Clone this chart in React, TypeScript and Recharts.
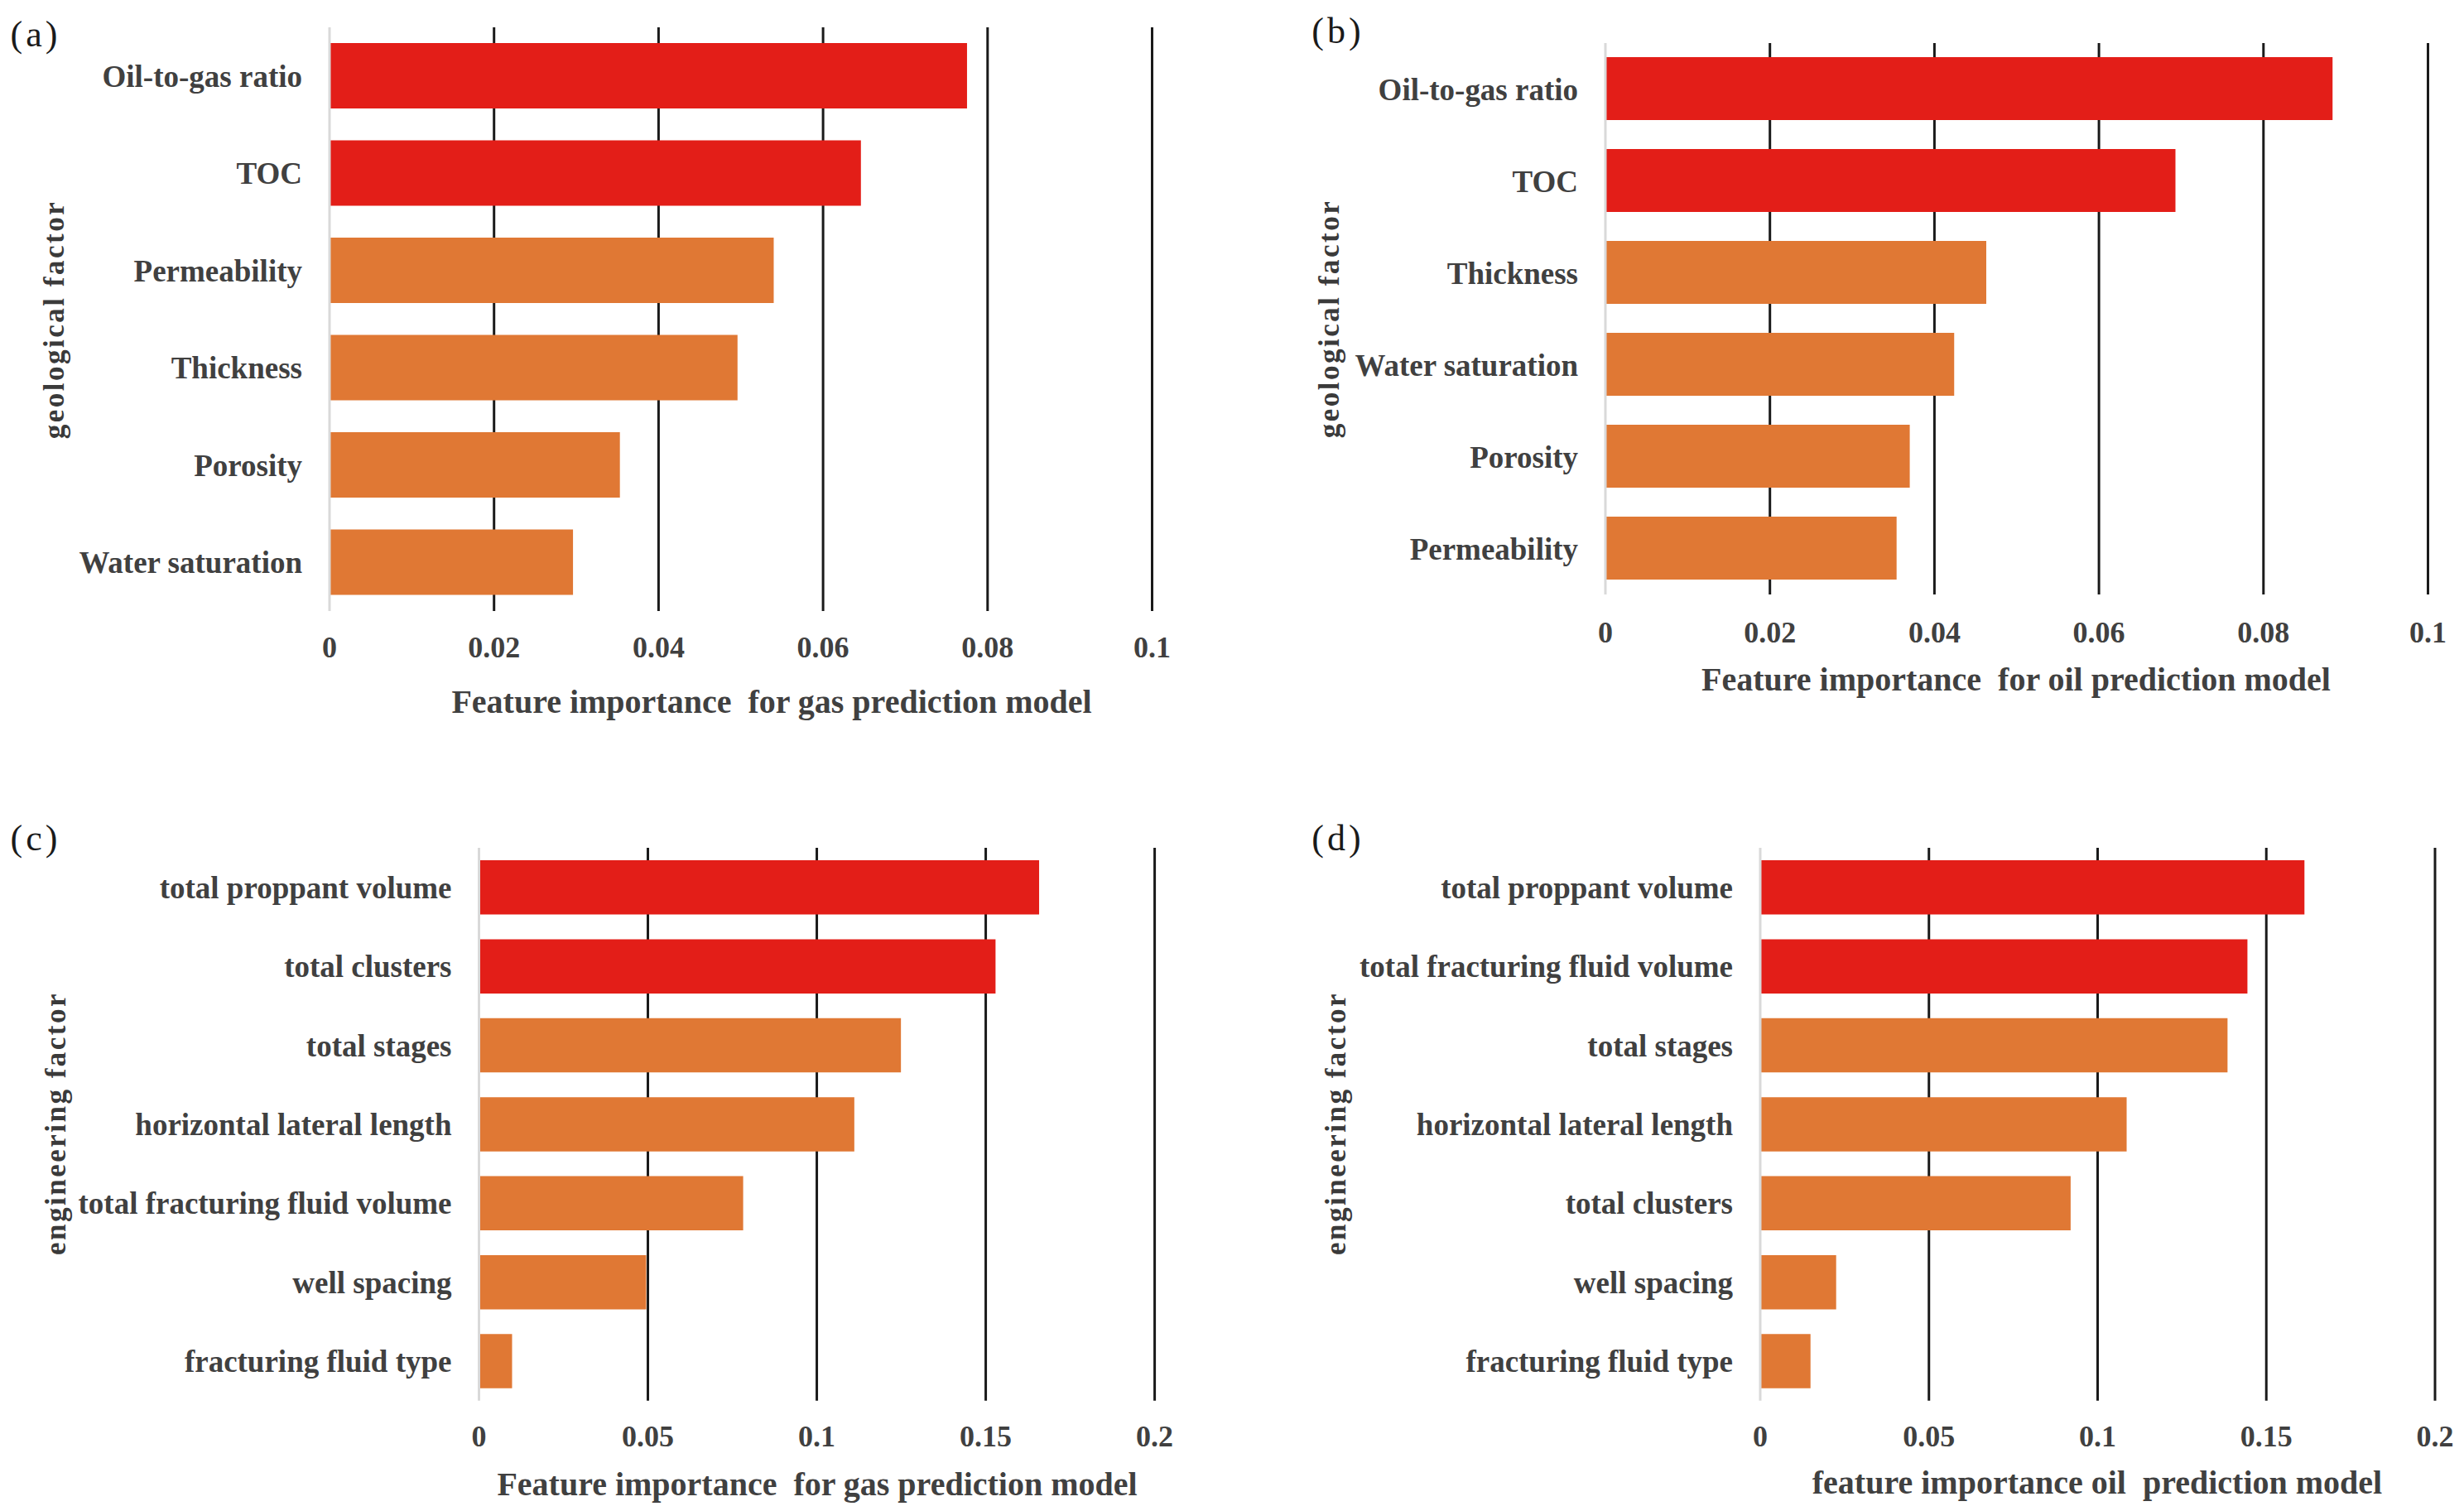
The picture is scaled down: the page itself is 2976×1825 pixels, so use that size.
import React from "react";
import { BarChart, Bar, Cell, XAxis, YAxis, CartesianGrid } from "recharts";

// (a) geological factors, gas model
const gasGeoCategories = ["Oil-to-gas ratio", "TOC", "Permeability", "Thickness", "Porosity", "Water saturation"];
const gasGeoValues = [0.0775, 0.0646, 0.054, 0.0496, 0.0353, 0.0296];

// (b) geological factors, oil model
const oilGeoCategories = ["Oil-to-gas ratio", "TOC", "Thickness", "Water saturation", "Porosity", "Permeability"];
const oilGeoValues = [0.0884, 0.0693, 0.0463, 0.0424, 0.037, 0.0354];

// (c) engineering factors, gas model
const gasEngCategories = [
  "total proppant volume",
  "total clusters",
  "total stages",
  "horizontal lateral length",
  "total fracturing fluid volume",
  "well spacing",
  "fracturing fluid type",
];
const gasEngValues = [0.1658, 0.1529, 0.1249, 0.1111, 0.0782, 0.0495, 0.0098];

// (d) engineering factors, oil model
const oilEngCategories = [
  "total proppant volume",
  "total fracturing fluid volume",
  "total stages",
  "horizontal lateral length",
  "total clusters",
  "well spacing",
  "fracturing fluid type",
];
const oilEngValues = [0.1613, 0.1444, 0.1385, 0.1086, 0.092, 0.0225, 0.0149];

const geoTicks = [0, 0.02, 0.04, 0.06, 0.08, 0.1];
const engTicks = [0, 0.05, 0.1, 0.15, 0.2];

const highlightCount = 2;

const RED = "#E31E18";
const ORANGE = "#E07834";
const TEXT = "#404040";
const FONT = "'Liberation Serif', 'Times New Roman', serif";

const catTickStyle = { fill: TEXT, fontSize: 37, fontFamily: FONT, fontWeight: 700 };
const numTickStyle = { fill: TEXT, fontSize: 36, fontFamily: FONT, fontWeight: 700 };

const panels = [
  {
    key: "a", letter: "(a)", categories: gasGeoCategories, values: gasGeoValues, ticks: geoTicks,
    left: 80, x0: 398, x1: 1391.5, y0: 33, y1: 738, barSize: 79, tickGap: 30,
    xTitle: "Feature importance  for gas prediction model", xTitlePos: [932, 847],
    yTitle: "geological factor", yTitlePos: [66, 386], letterPos: [43, 41],
  },
  {
    key: "b", letter: "(b)", categories: oilGeoCategories, values: oilGeoValues, ticks: geoTicks,
    left: 1620, x0: 1939, x1: 2932.5, y0: 51.7, y1: 717.6, barSize: 76, tickGap: 33,
    xTitle: "Feature importance  for oil prediction model", xTitlePos: [2435, 820],
    yTitle: "geological factor", yTitlePos: [1606, 385], letterPos: [1616, 37],
  },
  {
    key: "c", letter: "(c)", categories: gasEngCategories, values: gasEngValues, ticks: engTicks,
    left: 70, x0: 578.5, x1: 1394.6, y0: 1023.7, y1: 1691.4, barSize: 65.5, tickGap: 30,
    xTitle: "Feature importance  for gas prediction model", xTitlePos: [987, 1792],
    yTitle: "engineering factor", yTitlePos: [68, 1357], letterPos: [43, 1012],
  },
  {
    key: "d", letter: "(d)", categories: oilEngCategories, values: oilEngValues, ticks: engTicks,
    left: 1630, x0: 2126, x1: 2941, y0: 1023.7, y1: 1691.4, barSize: 65.5, tickGap: 30,
    xTitle: "feature importance oil  prediction model", xTitlePos: [2533, 1790],
    yTitle: "engineering factor", yTitlePos: [1614, 1357], letterPos: [1616, 1012],
  },
];

function Panel({ p }: { p: any }) {
  const data = p.categories.map((name: string, i: number) => ({ name, value: p.values[i] }));
  const max = p.ticks[p.ticks.length - 1];
  const padTop = 20;
  const padRight = 34;
  const xAxisH = 90;
  const top = p.y0 - padTop;
  const width = p.x1 - p.left + padRight;
  const height = p.y1 - top + xAxisH;

  const gridX = ({ xAxis, offset }: any) =>
    p.ticks.slice(1).map((t: number) =>
      typeof xAxis?.scale === "function" ? xAxis.scale(t) : offset.left + (t / max) * offset.width
    );

  return (
    <>
      <div style={{ position: "absolute", left: p.left, top }}>
        <BarChart
          layout="vertical"
          width={width}
          height={height}
          data={data}
          margin={{ top: padTop, right: padRight, bottom: 0, left: 0 }}
        >
          <CartesianGrid horizontal={false} stroke="#1a1a1a" strokeWidth={3} verticalCoordinatesGenerator={gridX} />
          <XAxis
            type="number"
            domain={[0, max]}
            ticks={p.ticks}
            height={xAxisH}
            axisLine={false}
            tickLine={false}
            tickSize={0}
            tickMargin={p.tickGap}
            tick={numTickStyle}
            tickFormatter={(v: number) => String(v)}
          />
          <YAxis
            type="category"
            dataKey="name"
            width={p.x0 - p.left}
            axisLine={{ stroke: "#d9d9d9", strokeWidth: 3 }}
            tickLine={false}
            tickSize={0}
            tickMargin={33}
            interval={0}
            tick={catTickStyle}
          />
          <Bar dataKey="value" barSize={p.barSize} isAnimationActive={false}>
            {data.map((_: any, i: number) => (
              <Cell key={i} fill={i < highlightCount ? RED : ORANGE} />
            ))}
          </Bar>
        </BarChart>
      </div>

      <div
        style={{
          position: "absolute", left: p.xTitlePos[0], top: p.xTitlePos[1],
          transform: "translate(-50%, -50%)", whiteSpace: "pre",
          fontFamily: FONT, fontWeight: 700, fontSize: 40, color: TEXT,
        }}
      >
        {p.xTitle}
      </div>

      <div
        style={{
          position: "absolute", left: p.yTitlePos[0], top: p.yTitlePos[1],
          transform: "translate(-50%, -50%) rotate(-90deg)", whiteSpace: "pre",
          fontFamily: FONT, fontWeight: 700, fontSize: 35, letterSpacing: 2.5, color: "#3a3a3a",
        }}
      >
        {p.yTitle}
      </div>

      <div
        style={{
          position: "absolute", left: p.letterPos[0], top: p.letterPos[1],
          transform: "translate(-50%, -50%)", whiteSpace: "pre",
          fontFamily: FONT, fontSize: 44, letterSpacing: 4, color: "#1a1a1a",
        }}
      >
        {p.letter}
      </div>
    </>
  );
}

export default function App() {
  return (
    <div style={{ position: "relative", width: 2976, height: 1825, background: "#fff", overflow: "hidden" }}>
      <style>{"body { margin: 0; }"}</style>
      {panels.map((p) => (
        <Panel key={p.key} p={p} />
      ))}
    </div>
  );
}
